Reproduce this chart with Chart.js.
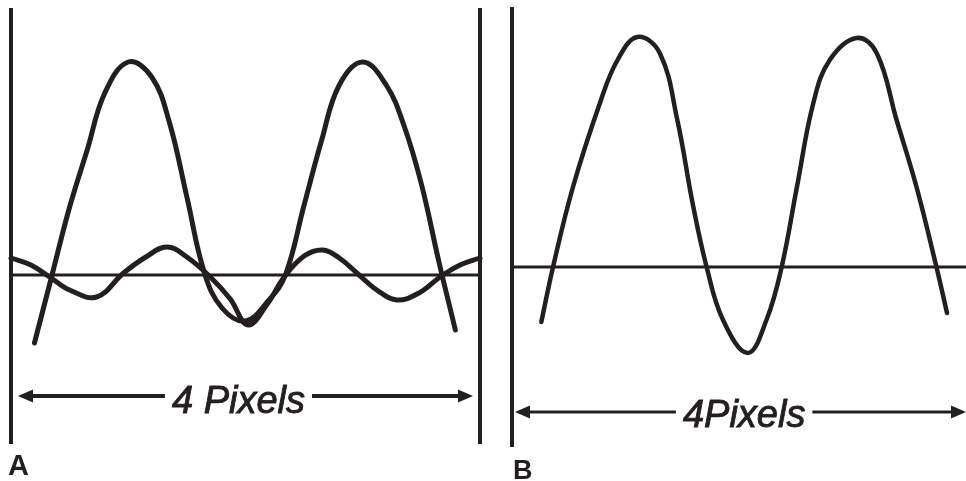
<!DOCTYPE html>
<html>
<head>
<meta charset="utf-8">
<script src="https://cdn.jsdelivr.net/npm/chart.js@4.4.1/dist/chart.umd.min.js"></script>
<style>
  body { margin: 0; background: #fff; }
  #wrap { position: relative; width: 966px; height: 481px; overflow: hidden; background: #fff; }
  canvas { position: absolute; top: 0; }
  #chartA { left: 0; }
  #chartB { left: 496px; }
</style>
</head>
<body>
<div id="wrap">
  <canvas id="chartA" width="496" height="481"></canvas>
  <canvas id="chartB" width="470" height="481"></canvas>
</div>
<script>
// x is in pixel units (the "4 Pixels" span), y is relative amplitude
const bigAx = [0.2, 0.35, 0.5, 0.65, 0.8, 1.0, 1.2, 1.35, 1.5, 1.65, 1.8, 2.0, 2.2, 2.34, 2.5, 2.65, 2.8, 3.0, 3.2, 3.35, 3.5, 3.65, 3.79];
const bigAy = [-0.68, 0.0, 0.68, 1.25, 1.82, 2.13, 1.98, 1.53, 0.78, 0.02, -0.33, -0.46, -0.25, 0.0, 0.7, 1.35, 1.9, 2.13, 1.9, 1.5, 0.91, 0.13, -0.55];

const smallAx = [0, 0.17, 0.33, 0.5, 0.73, 0.96, 1.15, 1.33, 1.5, 1.7, 1.87, 2.02, 2.18, 2.33, 2.5, 2.66, 2.8, 2.95, 3.12, 3.29, 3.48, 3.66, 3.83, 4.0];
const smallAy = [0.17, 0.1, -0.02, -0.15, -0.22, 0.02, 0.18, 0.28, 0.18, -0.02, -0.24, -0.5, -0.3, -0.02, 0.19, 0.25, 0.17, 0.02, -0.15, -0.25, -0.18, -0.02, 0.1, 0.17];

const bigBx = [0.25, 0.35, 0.52, 0.75, 0.9, 1.07, 1.26, 1.41, 1.54, 1.66, 1.8, 2.01, 2.17, 2.3, 2.43, 2.57, 2.71, 2.94, 3.11, 3.28, 3.45, 3.62, 3.71];
const bigBy = [-0.55, 0.0, 0.8, 1.64, 2.07, 2.3, 2.14, 1.47, 0.64, 0.0, -0.53, -0.86, -0.53, 0.0, 0.8, 1.64, 2.07, 2.29, 2.14, 1.47, 0.8, 0.0, -0.46];

// axis limits
const spanA = [0, 4];
const yRangeA = [-1.69, 2.67];
const spanB = [0, 3.872];
const yRangeB = [-1.80, 2.60];

const ink = '#231f1e';

function pts(xs, ys) {
    return xs.map((x, i) => ({ x: x, y: ys[i] }));
}

function curve(data, width) {
    return {
        data: data,
        borderColor: ink,
        borderWidth: width,
        pointRadius: 0,
        fill: false,
        tension: 0.4,
        borderCapStyle: 'round',
        borderJoinStyle: 'round',
        clip: false,
    };
}

function straight(data, width) {
    return {
        data: data,
        borderColor: ink,
        borderWidth: width,
        pointRadius: 0,
        fill: false,
        tension: 0,
        clip: false,
    };
}

// dimension arrow with label, plus panel letter
const dimensionPlugin = {
    id: 'dimension',
    afterDatasetsDraw(chart, args, opts) {
        const ctx = chart.ctx;
        const xs = chart.scales.x;
        const ys = chart.scales.y;
        const y = ys.getPixelForValue(opts.at);
        const x1 = xs.getPixelForValue(opts.from) + opts.insetLeft;
        const x2 = xs.getPixelForValue(opts.to) - opts.insetRight;
        const xc = xs.getPixelForValue(opts.textAt);

        ctx.save();
        ctx.fillStyle = ink;
        ctx.strokeStyle = ink;
        ctx.font = opts.font;
        const w = ctx.measureText(opts.text).width;
        const head = 15, half = 6.5, gap = 7;

        ctx.lineWidth = opts.lineWidth;
        ctx.beginPath();
        ctx.moveTo(x1 + head - 2, y);
        ctx.lineTo(xc - w / 2 - gap, y);
        ctx.moveTo(xc + w / 2 + gap, y);
        ctx.lineTo(x2 - head + 2, y);
        ctx.stroke();

        ctx.beginPath();
        ctx.moveTo(x1, y);
        ctx.lineTo(x1 + head, y - half);
        ctx.lineTo(x1 + head, y + half);
        ctx.closePath();
        ctx.moveTo(x2, y);
        ctx.lineTo(x2 - head, y - half);
        ctx.lineTo(x2 - head, y + half);
        ctx.closePath();
        ctx.fill();

        ctx.textAlign = 'center';
        ctx.textBaseline = 'alphabetic';
        ctx.lineWidth = 0.9;
        ctx.fillText(opts.text, xc, y + opts.textDrop);
        ctx.strokeText(opts.text, xc, y + opts.textDrop);

        ctx.font = opts.letterFont;
        ctx.textAlign = 'left';
        ctx.fillText(opts.letter, chart.chartArea.left + opts.letterDx, opts.letterY);
        ctx.restore();
    }
};

function baseOptions(span, yRange, padding, dim) {
    return {
        responsive: false,
        animation: false,
        events: [],
        layout: { padding: padding },
        plugins: {
            legend: { display: false },
            tooltip: { enabled: false },
            title: { display: false },
            dimension: dim,
        },
        scales: {
            x: { type: 'linear', display: false, min: span[0], max: span[1] },
            y: { type: 'linear', display: false, min: yRange[0], max: yRange[1] },
        },
    };
}

new Chart(document.getElementById('chartA').getContext('2d'), {
    type: 'line',
    data: {
        datasets: [
            straight([{ x: spanA[0], y: yRangeA[0] }, { x: spanA[0], y: yRangeA[1] }], 4),
            straight([{ x: spanA[1], y: yRangeA[0] }, { x: spanA[1], y: yRangeA[1] }], 4),
            straight([{ x: spanA[0], y: 0 }, { x: spanA[1], y: 0 }], 3),
            curve(pts(smallAx, smallAy), 5),
            curve(pts(bigAx, bigAy), 5),
        ],
    },
    options: baseOptions(spanA, yRangeA, { left: 11, top: 8, right: 16, bottom: 37 }, {
        at: -1.21, from: 0, to: 4, insetLeft: 7, insetRight: 7,
        textAt: 1.94, text: '4 Pixels', font: 'italic 38px "Liberation Sans"', textDrop: 17, lineWidth: 4,
        letter: 'A', letterFont: 'bold 29px "Liberation Sans"', letterDx: -3, letterY: 475,
    }),
    plugins: [dimensionPlugin],
});

new Chart(document.getElementById('chartB').getContext('2d'), {
    type: 'line',
    data: {
        datasets: [
            straight([{ x: spanB[0], y: yRangeB[0] }, { x: spanB[0], y: yRangeB[1] }], 4),
            straight([{ x: spanB[0], y: 0 }, { x: spanB[1], y: 0 }], 3),
            curve(pts(bigBx, bigBy), 4.5),
        ],
    },
    options: baseOptions(spanB, yRangeB, { left: 16, top: 7, right: 0, bottom: 34 }, {
        at: -1.45, from: 0, to: spanB[1], insetLeft: 3, insetRight: 0,
        textAt: 1.98, text: '4Pixels', font: 'italic 38px "Liberation Sans"', textDrop: 15, lineWidth: 3,
        letter: 'B', letterFont: 'bold 27px "Liberation Sans"', letterDx: 1, letterY: 479,
    }),
    plugins: [dimensionPlugin],
});
</script>
</body>
</html>
